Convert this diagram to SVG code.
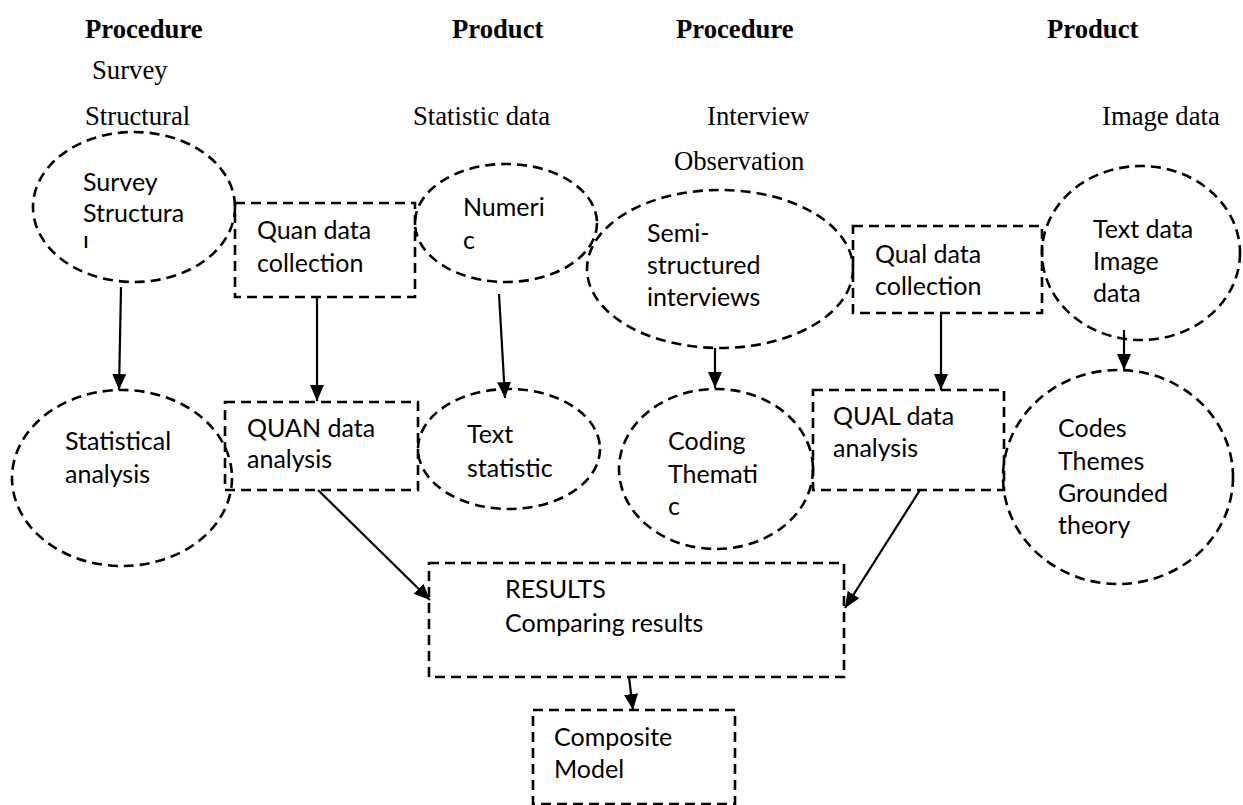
<svg xmlns="http://www.w3.org/2000/svg" width="1243" height="805" viewBox="0 0 1243 805">
<style>
.hd{font-family:"Liberation Serif","Times New Roman",serif;font-size:26.7px;font-weight:bold;fill:#000}
.lb{font-family:"Liberation Serif","Times New Roman",serif;font-size:26.7px;fill:#000}
.tx{font-family:Lato,"Open Sans",sans-serif;font-size:25px;fill:#000}
.sh{fill:none;stroke:#000;stroke-width:2.6;stroke-dasharray:10 6}
.cn{fill:none;stroke:#000;stroke-width:2.2}
</style>
<defs>
<marker id="ah" viewBox="0 0 16 14" refX="16" refY="7" markerWidth="16" markerHeight="14" markerUnits="userSpaceOnUse" orient="auto">
<path d="M0,0 L16,7 L0,14 z" fill="#000"/>
</marker>
<clipPath id="clipS"><rect x="30" y="140" width="200" height="108"/></clipPath>
</defs>
<rect width="1243" height="805" fill="#fff"/>
<g id="headers">
<text class="hd" x="85" y="38">Procedure</text>
<text class="hd" x="452" y="38">Product</text>
<text class="hd" x="676" y="38">Procedure</text>
<text class="hd" x="1047" y="38">Product</text>
<text class="lb" x="92" y="79">Survey</text>
<text class="lb" x="85" y="125">Structural</text>
<text class="lb" x="413" y="125">Statistic data</text>
<text class="lb" x="707" y="125">Interview</text>
<text class="lb" x="1102" y="125">Image data</text>
<text class="lb" x="674" y="170">Observation</text>
</g>
<g id="n-survey">
<ellipse class="sh" cx="134" cy="207" rx="101" ry="75"/>
<g clip-path="url(#clipS)">
<text class="tx" x="83" y="191">Survey</text>
<text class="tx" x="83" y="222">Structura</text>
<text class="tx" x="83" y="255">l</text>
</g>
</g>
<g id="n-quan-coll">
<rect class="sh" x="235" y="203" width="180" height="94"/>
<text class="tx" x="257" y="239">Quan data</text>
<text class="tx" x="257" y="272">collection</text>
</g>
<g id="n-numeric">
<ellipse class="sh" cx="506" cy="223" rx="91" ry="59"/>
<text class="tx" x="463" y="216">Numeri</text>
<text class="tx" x="463" y="249">c</text>
</g>
<g id="n-semi">
<ellipse class="sh" cx="720" cy="269" rx="133" ry="79"/>
<text class="tx" x="647" y="242">Semi-</text>
<text class="tx" x="647" y="274">structured</text>
<text class="tx" x="647" y="306">interviews</text>
</g>
<g id="n-qual-coll">
<rect class="sh" x="853" y="226" width="189" height="87"/>
<text class="tx" x="875" y="263">Qual data</text>
<text class="tx" x="875" y="295">collection</text>
</g>
<g id="n-textdata">
<ellipse class="sh" cx="1141" cy="253" rx="99" ry="87"/>
<text class="tx" x="1093" y="238">Text data</text>
<text class="tx" x="1093" y="270">Image</text>
<text class="tx" x="1093" y="302">data</text>
</g>
<g id="n-statistical">
<ellipse class="sh" cx="122" cy="478" rx="110" ry="88"/>
<text class="tx" x="65" y="450">Statistical</text>
<text class="tx" x="65" y="483">analysis</text>
</g>
<g id="n-quan-an">
<rect class="sh" x="225" y="402" width="193" height="88"/>
<text class="tx" x="247" y="437">QUAN data</text>
<text class="tx" x="247" y="468">analysis</text>
</g>
<g id="n-textstat">
<ellipse class="sh" cx="509" cy="449" rx="91" ry="60"/>
<text class="tx" x="467" y="443">Text</text>
<text class="tx" x="467" y="477">statistic</text>
</g>
<g id="n-coding">
<ellipse class="sh" cx="716" cy="469" rx="97" ry="80"/>
<text class="tx" x="668" y="450">Coding</text>
<text class="tx" x="668" y="483">Themati</text>
<text class="tx" x="668" y="515">c</text>
</g>
<g id="n-qual-an">
<rect class="sh" x="813" y="390" width="191" height="100"/>
<text class="tx" x="833" y="425">QUAL data</text>
<text class="tx" x="833" y="457">analysis</text>
</g>
<g id="n-codes">
<ellipse class="sh" cx="1118" cy="477" rx="115" ry="107"/>
<text class="tx" x="1058" y="437">Codes</text>
<text class="tx" x="1058" y="470">Themes</text>
<text class="tx" x="1058" y="502">Grounded</text>
<text class="tx" x="1058" y="534">theory</text>
</g>
<g id="n-results">
<rect class="sh" x="429" y="563" width="415" height="114"/>
<text class="tx" x="505" y="598">RESULTS</text>
<text class="tx" x="505" y="632">Comparing results</text>
</g>
<g id="n-composite">
<rect class="sh" x="533" y="710" width="202" height="94"/>
<text class="tx" x="554" y="746">Composite</text>
<text class="tx" x="554" y="778">Model</text>
</g>
<g id="connectors">
<line class="cn" x1="121" y1="287" x2="119" y2="390" marker-end="url(#ah)"/>
<line class="cn" x1="317" y1="297" x2="317" y2="401" marker-end="url(#ah)"/>
<line class="cn" x1="499" y1="294" x2="505" y2="398" marker-end="url(#ah)"/>
<line class="cn" x1="715" y1="348" x2="715" y2="388" marker-end="url(#ah)"/>
<line class="cn" x1="941" y1="313" x2="941" y2="390" marker-end="url(#ah)"/>
<line class="cn" x1="1124" y1="330" x2="1124" y2="370" marker-end="url(#ah)"/>
<line class="cn" x1="318" y1="490" x2="430" y2="600" marker-end="url(#ah)"/>
<line class="cn" x1="920" y1="490" x2="845" y2="608" marker-end="url(#ah)"/>
<line class="cn" x1="629" y1="677" x2="633" y2="710" marker-end="url(#ah)"/>
</g>
</svg>
